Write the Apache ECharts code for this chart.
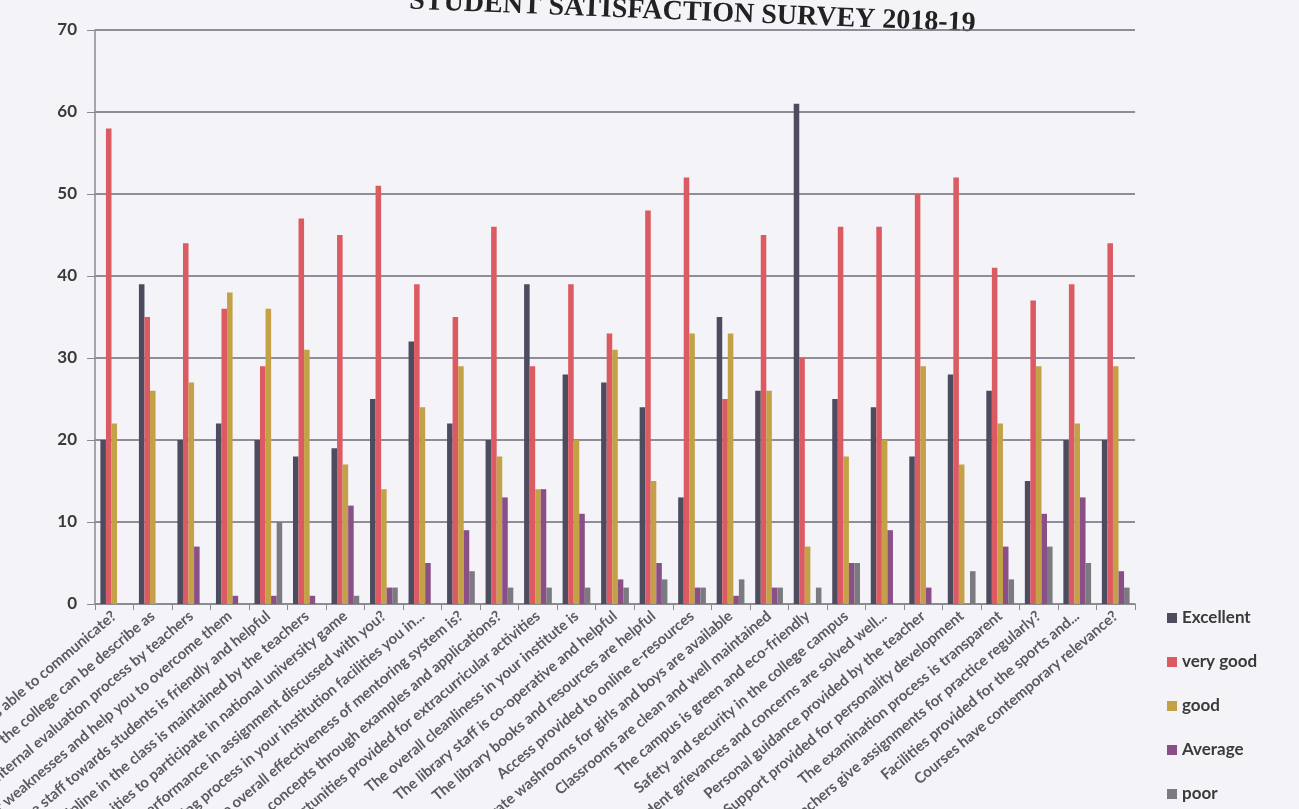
<!DOCTYPE html>
<html>
<head>
<meta charset="utf-8">
<script src="https://cdn.jsdelivr.net/npm/echarts@6/dist/echarts.min.js"></script>
<style>
html,body{margin:0;padding:0;background:#f4f3f7;}
#chart{width:1299px;height:809px;}
</style>
</head>
<body>
<div id="chart"></div>
<script>
const titleText = 'STUDENT SATISFACTION SURVEY 2018-19';
const categories = [
  'How well were the teachers able to communicate?',
  'Your overall experience of the college can be describe as',
  'Fairness of the internal evaluation process by teachers',
  'Teachers identify your weaknesses and help you to overcome them',
  'The attitude of office staff towards students is friendly and helpful',
  'Discipline in the class is maintained by the teachers',
  'Opportunities to participate in national university game',
  'Was your performance in assignment discussed with you?',
  'The teaching and mentoring process in your institution facilities you in...',
  'The overall effectiveness of mentoring system is?',
  'Teachers illustrate the concepts through examples and applications?',
  'Opportunities provided for extracurricular activities',
  'The overall cleanliness in your institute is',
  'The library staff is co-operative and helpful',
  'The library books and resources are helpful',
  'Access provided to online e-resources',
  'Separate washrooms for girls and boys are available',
  'Classrooms are clean and well maintained',
  'The campus is green and eco-friendly',
  'Safety and security in the college campus',
  'Student grievances and concerns are solved well...',
  'Personal guidance provided by the teacher',
  'Support provided for personality development',
  'The examination process is transparent',
  'Teachers give assignments for practice regularly?',
  'Facilities provided for the sports and...',
  'Courses have contemporary relevance?'
];
const seriesNames = ['Excellent', 'very good', 'good', 'Average', 'poor'];
const excellent = [20, 39, 20, 22, 20, 18, 19, 25, 32, 22, 20, 39, 28, 27, 24, 13, 35, 26, 61, 25, 24, 18, 28, 26, 15, 20, 20];
const veryGood  = [58, 35, 44, 36, 29, 47, 45, 51, 39, 35, 46, 29, 39, 33, 48, 52, 25, 45, 30, 46, 46, 50, 52, 41, 37, 39, 44];
const good      = [22, 26, 27, 38, 36, 31, 17, 14, 24, 29, 18, 14, 20, 31, 15, 33, 33, 26, 7, 18, 20, 29, 17, 22, 29, 22, 29];
const average   = [0, 0, 7, 1, 1, 1, 12, 2, 5, 9, 13, 14, 11, 3, 5, 2, 1, 2, 0, 5, 9, 2, 0, 7, 11, 13, 4];
const poor      = [0, 0, 0, 0, 10, 0, 1, 2, 0, 4, 2, 2, 2, 2, 3, 2, 3, 2, 2, 5, 0, 0, 4, 3, 7, 5, 2];
const yTicks = [0, 10, 20, 30, 40, 50, 60, 70];

const colors = ['#4d4b5e', '#dc5a62', '#c4a046', '#8a4f86', '#7a7a80'];
const seriesData = [excellent, veryGood, good, average, poor];

const chart = echarts.init(document.getElementById('chart'));
chart.setOption({
  backgroundColor: '#f4f3f7',
  animation: false,
  color: colors,
  graphic: [{
    type: 'text',
    x: 975, y: 38,
    rotation: -0.04,
    style: {
      text: titleText,
      textAlign: 'right',
      textVerticalAlign: 'bottom',
      font: 'bold 28px "Liberation Serif", serif',
      fill: '#222'
    }
  }],
  legend: {
    orient: 'vertical',
    left: 1162,
    top: 603,
    itemWidth: 10,
    itemHeight: 10,
    itemGap: 24,
    icon: 'rect',
    data: seriesNames,
    textStyle: { fontFamily: 'Lato', fontSize: 17, fontWeight: 'bold', color: '#3a3a3a', lineHeight: 20 }
  },
  grid: {
    left: 95, right: 164, top: 30, bottom: 205,
    containLabel: false,
    outerBoundsMode: 'none'
  },
  xAxis: {
    type: 'category',
    data: categories,
    axisLine: { lineStyle: { color: '#8a8a90', width: 1.5 } },
    axisTick: { show: true, length: 6, lineStyle: { color: '#8a8a90' } },
    axisLabel: {
      interval: 0,
      rotate: 40,
      fontFamily: 'Lato',
      fontSize: 15,
      fontWeight: 'bold',
      color: '#5a5a60',
      margin: 10
    }
  },
  yAxis: {
    type: 'value',
    min: yTicks[0],
    max: yTicks[yTicks.length - 1],
    interval: 10,
    axisLine: { show: true, lineStyle: { color: '#8a8a90', width: 1.5 } },
    axisTick: { show: true, length: 8, lineStyle: { color: '#8a8a90' } },
    axisLabel: { fontFamily: 'Lato', fontSize: 17, fontWeight: 'bold', color: '#3a3a3a', margin: 18 },
    splitLine: { show: true, lineStyle: { color: '#6e6c78', width: 1.5 } }
  },
  series: seriesNames.map((name, i) => ({
    name: name,
    type: 'bar',
    data: seriesData[i],
    barGap: '0%',
    barCategoryGap: '28%',
    itemStyle: { color: colors[i] }
  }))
});
</script>
</body>
</html>
